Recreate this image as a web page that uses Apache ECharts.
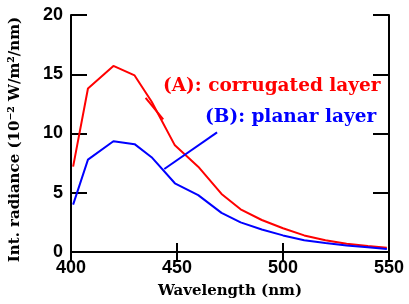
<!DOCTYPE html>
<html><head><meta charset="utf-8">
<script src="https://cdn.jsdelivr.net/npm/echarts@6/dist/echarts.min.js"></script>
<style>html,body{margin:0;padding:0;background:#fff}#c{width:409px;height:304px}</style>
</head><body><div id="c"></div>
<script>
var wavelength = [401, 408, 420, 430, 438, 449, 460, 471, 480, 490, 500, 510, 520, 530, 540, 549];
var corrugated = [7.2, 13.8, 15.7, 14.9, 12.7, 9.0, 7.2, 4.9, 3.6, 2.7, 2.0, 1.4, 1.0, 0.7, 0.5, 0.35];
var planar = [4.0, 7.8, 9.35, 9.1, 8.0, 5.8, 4.8, 3.3, 2.5, 1.9, 1.4, 1.0, 0.75, 0.55, 0.4, 0.25];
var xTicks = [400, 450, 500, 550];
var yTicks = [0, 5, 10, 15, 20];
var labelA = '(A): corrugated layer';
var labelB = '(B): planar layer';
var pointerA = [[435.2, 13.0], [443.5, 11.2]];
var pointerB = [[468.9, 10.1], [444.0, 7.0]];

function pairs(xs, ys){ return xs.map(function(x,i){ return [x, ys[i]]; }); }

var chart = echarts.init(document.getElementById('c'), null, {renderer:'canvas'});
var tickFont = {fontFamily:'Liberation Sans', fontWeight:'bold', fontSize:18, color:'#000'};
var titleFont = {fontFamily:'DejaVu Serif', fontWeight:'bold', fontSize:15, color:'#000'};
var axisLine = {show:true, lineStyle:{color:'#000', width:2}};
chart.setOption({
  animation:false,
  grid:{left:71, top:15, right:20, bottom:49, containLabel:false},
  xAxis:[{
    type:'value', min:xTicks[0], max:xTicks[xTicks.length-1], interval:50,
    axisLine:axisLine, axisTick:{inside:true, length:9, lineStyle:{color:'#000', width:2}},
    axisLabel:Object.assign({margin:7}, tickFont),
    splitLine:{show:false},
    name:'Wavelength (nm)', nameLocation:'middle', nameGap:32, nameTextStyle:titleFont
  },{
    type:'value', position:'top', min:xTicks[0], max:xTicks[xTicks.length-1], interval:50,
    axisLine:axisLine, axisTick:{inside:true, length:9, lineStyle:{color:'#000', width:2}},
    axisLabel:{show:false}, splitLine:{show:false}
  }],
  yAxis:[{
    type:'value', min:yTicks[0], max:yTicks[yTicks.length-1], interval:5,
    axisLine:axisLine, axisTick:{inside:true, length:16, lineStyle:{color:'#000', width:2}},
    axisLabel:Object.assign({margin:8}, tickFont),
    splitLine:{show:false},
    name:'Int. radiance (10\u207B\u00B2 W/m\u00B2/nm)', nameLocation:'middle', nameGap:48,
    nameTextStyle:Object.assign({padding:[0,12,0,0]}, titleFont)
  },{
    type:'value', position:'right', min:yTicks[0], max:yTicks[yTicks.length-1], interval:5,
    axisLine:axisLine, axisTick:{inside:true, length:16, lineStyle:{color:'#000', width:2}},
    axisLabel:{show:false}, splitLine:{show:false}
  }],
  series:[{
    type:'line', data:pairs(wavelength, corrugated), showSymbol:false, symbol:'none',
    lineStyle:{color:'#ff0000', width:2},
    markLine:{silent:true, symbol:'none', label:{show:false},
      lineStyle:{color:'#ff0000', width:2, type:'solid'},
      data:[[{coord:pointerA[0]},{coord:pointerA[1]}]]}
  },{
    type:'line', data:pairs(wavelength, planar), showSymbol:false, symbol:'none',
    lineStyle:{color:'#0000ff', width:2},
    markLine:{silent:true, symbol:'none', label:{show:false},
      lineStyle:{color:'#0000ff', width:2, type:'solid'},
      data:[[{coord:pointerB[0]},{coord:pointerB[1]}]]}
  }],
  graphic:[
    {type:'text', left:163, top:77, style:{text:labelA, fill:'#ff0000', font:'bold 18.5px "DejaVu Serif"'}},
    {type:'text', left:205, top:108, style:{text:labelB, fill:'#0000ff', font:'bold 18.5px "DejaVu Serif"'}}
  ]
});
</script></body></html>
